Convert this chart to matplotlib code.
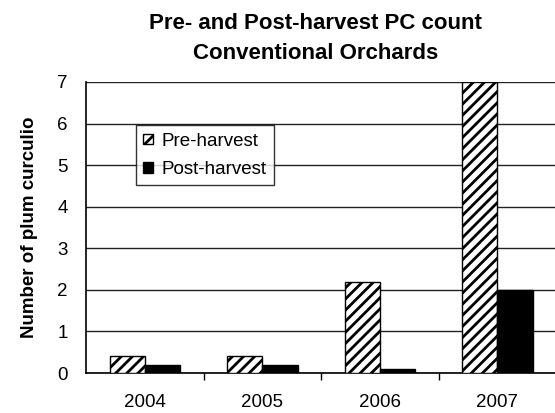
import numpy as np
import matplotlib
matplotlib.use("Agg")
import matplotlib.pyplot as plt

# -------------------------------
# Data
# -------------------------------
years = ["2004", "2005", "2006", "2007"]
pre_harvest = [0.4, 0.4, 2.2, 7.0]
post_harvest = [0.2, 0.2, 0.1, 2.0]

plt.rcParams['font.family'] = ['Liberation Sans', 'DejaVu Sans']
plt.rcParams['hatch.linewidth'] = 2.0

fig = plt.figure(figsize=(5.55, 4.13), dpi=100)
ax = fig.add_axes([86 / 555, 1 - 373 / 413, 470 / 555, 291 / 413])

x = np.arange(len(years))
w = 0.3
ax.bar(x - w / 2, pre_harvest, w, facecolor="white", edgecolor="black",
       hatch="///", linewidth=1, label="Pre-harvest", zorder=3)
ax.bar(x + w / 2, post_harvest, w, color="black", edgecolor="black",
       linewidth=1, label="Post-harvest", zorder=3)

ax.set_xlim(-0.5, len(years) - 0.5)
ax.set_ylim(0, 7)
ax.set_yticks(range(0, 8))
ax.yaxis.grid(True, color="#222222", linewidth=1, zorder=0)
ax.set_axisbelow(True)

ax.set_xticks(x)
ax.set_xticklabels(years, fontsize=13.5)
ax.set_xticks(np.arange(0.5, len(years) - 0.5, 1), minor=True)
ax.tick_params(axis="x", which="major", length=0, pad=15)
ax.tick_params(axis="x", which="minor", length=5, width=1, direction="out")
ax.tick_params(axis="y", length=0, labelsize=13.5, pad=13)

for side in ["top", "right"]:
    ax.spines[side].set_visible(False)
ax.spines["left"].set_linewidth(1.2)
ax.spines["bottom"].set_linewidth(1.2)

ax.set_ylabel("Number of plum curculio", fontsize=13.5, fontweight="bold")
ax.yaxis.set_label_coords(-0.102, 0.5)

fig.text(0.569, 0.942, "Pre- and Post-harvest PC count", ha="center",
         va="center", fontsize=16, fontweight="bold")
fig.text(0.569, 0.87, "Conventional Orchards", ha="center",
         va="center", fontsize=16, fontweight="bold")

leg = ax.legend(loc="upper left", bbox_to_anchor=(0.106, 0.852),
                fontsize=13.5, frameon=True, fancybox=False,
                handlelength=0.5, handleheight=0.5, handletextpad=0.45,
                borderpad=0.4, labelspacing=0.6, borderaxespad=0)
leg.get_frame().set_edgecolor("black")
leg.get_frame().set_linewidth(1)

plt.savefig("out.png", dpi=100)
plt.close()
